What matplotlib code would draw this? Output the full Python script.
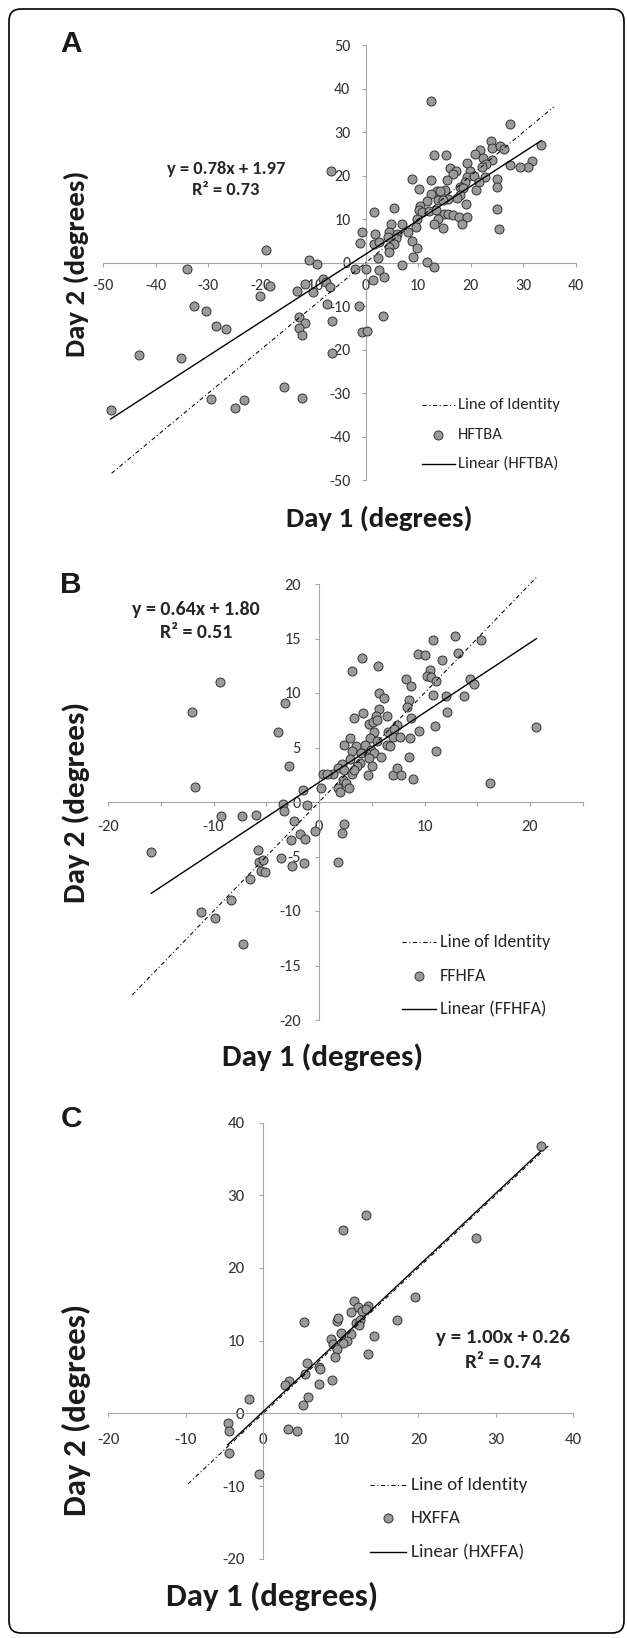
import numpy as np
import matplotlib
matplotlib.use('Agg')
import matplotlib.pyplot as plt
from matplotlib.patches import FancyBboxPatch
from matplotlib.transforms import IdentityTransform
from matplotlib.ticker import MultipleLocator
from matplotlib.lines import Line2D
from matplotlib import font_manager

# Excel look: Calibri metrics via Carlito when present
installed = {f.name for f in font_manager.fontManager.ttflist}
main_font = 'Carlito' if 'Carlito' in installed else 'Lato'
plt.rcParams['font.family'] = [main_font, 'DejaVu Sans']
plt.rcParams['axes.unicode_minus'] = False

W, H = 627, 1638

# ---- Panel A: HFTBA ----
a_day1 = [12.4, 27.5, 33.4, 23.8, 24.1, 25.5, 26.3, 21.7, 20.8, 22.4,
          24.1, 23.0, 22.2, 13.1, 15.2, 31.7, 30.9, 29.3, 27.5, 19.2,
          16.0, 17.2, 19.9, 16.6, 19.3, 20.6, 22.7, 8.8, 12.4, 25.0,
          15.4, 18.9, 21.5, 25.0, 18.0, 18.6, 10.2, 21.1, 15.1, 13.5,
          14.2, 12.4, 17.9, 17.3, 11.6, 15.6, 13.8, 14.7, 10.4, 19.1,
          5.3, 10.2, 10.7, 12.1, 13.4, 15.0, 15.6, 16.7, 17.8, 19.2,
          1.5, 25.1, 13.8, 9.8, 4.8, 7.0, 13.0, 18.4, 9.6, 14.8,
          25.3, 8.1, -0.8, 4.5, 5.9, 1.7, 4.3, 5.7, -1.1, 1.5,
          2.5, 5.3, 4.4, 4.5, 8.8, 9.7, 2.4, 9.1, 6.9, 11.7,
          13.0, -2.0, 0.1, 2.5, 3.4, 1.3, -1.3, 3.2, -0.8, 0.2,
          -6.6,
          -19.0, -34.0, -10.8, -9.3, -18.2, -20.2, -13.1, -11.6, -10.0, -8.1,
          -7.6, -6.8, -7.3, -32.8, -30.5, -28.5, -26.7, -12.7, -11.6, -12.8,
          -12.2, -6.5, -43.2, -35.2, -6.5, -15.6, -12.2, -29.5, -23.1, -24.9,
          -48.6]
a_day2 = [37.2, 32.0, 27.0, 28.0, 26.4, 26.9, 26.1, 25.9, 24.9, 24.0,
          23.5, 22.8, 21.9, 24.8, 24.8, 23.4, 22.1, 22.0, 22.5, 23.0,
          21.8, 21.1, 21.1, 20.4, 19.8, 19.9, 19.8, 19.2, 19.1, 19.2,
          18.9, 18.5, 18.6, 17.5, 17.5, 17.1, 16.9, 16.7, 16.6, 16.5,
          16.5, 15.9, 15.6, 14.8, 14.2, 14.6, 14.4, 14.4, 13.1, 13.4,
          12.6, 12.1, 11.7, 12.0, 12.1, 11.3, 11.2, 11.0, 10.6, 10.6,
          11.6, 12.3, 10.0, 10.0, 9.0, 8.8, 9.0, 9.0, 8.3, 8.0,
          7.8, 7.1, 7.1, 7.1, 6.7, 6.7, 6.0, 5.6, 4.5, 4.3,
          4.8, 4.2, 3.7, 2.5, 5.0, 3.4, 1.1, 1.4, -0.6, 0.2,
          -1.0, -1.4, -1.5, -1.7, -3.3, -3.9, -9.9, -12.3, -16.0, -15.6,
          21.0,
          3.0, -1.4, 0.6, -0.3, -5.4, -7.6, -6.5, -4.8, -6.7, -3.8,
          -4.4, -5.7, -9.5, -9.9, -11.1, -14.5, -15.2, -12.4, -13.9, -14.9,
          -16.7, -13.3, -21.3, -21.8, -20.8, -28.6, -31.0, -31.4, -31.6, -33.3,
          -33.8]

# ---- Panel B: FFHFA ----
b_day1 = [10.8, 15.4, 12.9, 4.1, 9.4, 10.0, 13.2, 11.7, 5.6, 3.1,
          10.5, 10.2, 10.6, 11.1, 8.2, 14.3, 14.7, 8.7, 5.7, 10.8,
          12.0, 13.7, 6.2, 8.5, 8.3, 5.7, 4.2, 12.1, 5.4, 3.3,
          6.4, 8.7, 4.7, 5.1, 5.5, 7.4, 11.0, 20.6, 5.2, 6.5,
          7.1, 9.5, 2.9, 4.8, 5.5, 7.0, 7.7, 8.6, 2.4, 3.5,
          4.4, 3.1, 4.0, 4.9, 6.4, 6.7, 11.1, 5.2, 5.9, 8.5,
          4.7, 2.9, 2.2, 3.9, 3.6, 5.0, 1.8, 2.4, 1.3, 0.4,
          0.8, 3.1, 3.3, 4.6, 7.0, 7.4, 7.8, 8.9, 2.3, 2.6,
          2.8, 1.8, 2.0, 0.15, -1.5, 16.2, 2.4, 2.2, 1.8, -1.1,
          -0.4, -2.4, -1.8, -1.3, -1.4, -2.6, -2.7,
          -9.4, -12.0, -3.2, -3.9, -2.8, -11.8, -3.4, -3.3, -9.3, -7.3,
          -6.0, -15.9, -5.8, -5.7, -5.3, -5.5, -5.1, -3.6, -6.5, -8.3,
          -11.2, -9.9, -7.2]
b_day2 = [14.9, 14.9, 15.2, 13.2, 13.6, 13.5, 13.7, 13.0, 12.5, 12.0,
          12.1, 11.6, 11.5, 11.1, 11.3, 11.3, 10.8, 10.6, 10.0, 9.8,
          9.7, 9.7, 9.5, 9.4, 8.7, 8.5, 8.2, 8.3, 7.9, 7.7,
          7.9, 7.7, 7.2, 7.3, 7.5, 7.1, 7.0, 6.9, 6.4, 6.4,
          6.7, 6.5, 5.9, 5.9, 5.6, 6.0, 6.0, 5.9, 5.2, 5.1,
          5.2, 4.7, 4.5, 4.8, 5.2, 5.1, 4.7, 4.5, 4.1, 4.1,
          4.0, 3.9, 3.5, 3.6, 3.3, 3.3, 3.1, 2.9, 2.6, 2.6,
          2.6, 2.6, 2.9, 2.5, 2.5, 3.1, 2.5, 2.1, 2.0, 1.7,
          1.3, 1.25, 0.9, 1.25, 1.1, 1.7, -2.0, -2.8, -5.5, -0.3,
          -2.7, -1.7, -2.9, -3.4, -5.6, -5.9, -3.5,
          11.0, 8.3, 9.1, 6.4, 3.3, 1.4, -0.2, -0.8, -1.3, -1.3,
          -1.2, -4.6, -4.4, -5.5, -5.3, -6.3, -6.4, -5.1, -7.1, -9.0,
          -10.1, -10.6, -13.0]

# ---- Panel C: HXFFA ----
c_day1 = [35.8, 13.3, 10.3, 27.4, 19.6, 11.7, 12.2, 11.3, 12.7, 13.5,
          13.3, 5.2, 9.5, 9.7, 17.2, 12.0, 12.5, 12.4, 10.0, 11.3,
          8.8, 10.8, 10.3, 14.3, 9.0, 9.5, 9.3, 13.5, 5.7, 7.2,
          7.3, 5.4, 3.3, 2.8, 8.9, 7.2, 5.8, 5.1, -1.9, 3.2,
          4.4, -4.6, -4.4, -4.4, -0.5]
c_day2 = [36.8, 27.3, 25.2, 24.1, 16.0, 15.5, 14.6, 14.0, 14.1, 14.7,
          14.3, 12.5, 12.7, 13.1, 12.8, 12.4, 12.8, 12.2, 11.0, 10.9,
          10.2, 10.0, 9.7, 10.6, 9.6, 8.8, 7.8, 8.2, 6.9, 6.4,
          6.1, 5.4, 4.4, 3.9, 4.6, 4.0, 2.2, 1.1, 2.0, -2.2,
          -2.5, -1.4, -2.5, -5.4, -8.3]

series_names = ['HFTBA', 'FFHFA', 'HXFFA']
fit_slopes = [0.78, 0.64, 1.00]
fit_intercepts = [1.97, 1.80, 0.26]
fit_r2 = [0.73, 0.51, 0.74]
identity_ranges = [(-48.4, 35.8), (-17.7, 20.7), (-9.7, 37.0)]
panel_letters = ['A', 'B', 'C']


def px_box(x_left, x_right, y_top, y_bottom):
    return [x_left / W, 1 - y_bottom / H, (x_right - x_left) / W, (y_bottom - y_top) / H]


def fxy(px, py):
    return px / W, 1 - py / H


fig = plt.figure(figsize=(W / 100, H / 100), dpi=100)

# layout per panel, in pixels of the 627x1638 picture
# (the three source panels were pasted at slightly different scales -> k)
panels = [
    dict(x=a_day1, y=a_day2, box=px_box(103.2, 575.7, 45.2, 480.2),
         xlim=(-50, 40), ylim=(-50, 50), xmaj=10, xmin=10, ymaj=10,
         k=1.0, tk=11.5, xpad=8.6, ypad=8.0,
         letter_y=44, eq=(226, 169, 190),
         leg_x=(421.7, 455, 457.7), leg_y=(405, 435, 464),
         ylab_y=264, xlab=(379, 518)),
    dict(x=b_day1, y=b_day2, box=px_box(108.0, 582.75, 584, 1020),
         xlim=(-20, 25), ylim=(-20, 20), xmaj=10, xmin=5, ymaj=5,
         k=1.08, tk=11.8, xpad=9.8, ypad=10.0,
         letter_y=585, eq=(196, 609, 633),
         leg_x=(402, 436, 440), leg_y=(942, 976, 1009),
         ylab_y=802, xlab=(323, 1057)),
    dict(x=c_day1, y=c_day2, box=px_box(108.3, 573.3, 1122.5, 1558.7),
         xlim=(-20, 40), ylim=(-20, 40), xmaj=10, xmin=10, ymaj=10,
         k=1.14, tk=12.2, xpad=11.2, ypad=10.6,
         letter_y=1119, eq=(503, 1337, 1363),
         leg_x=(370, 406, 411), leg_y=(1485, 1518, 1552),
         ylab_y=1410, xlab=(272, 1596)),
]

axis_gray = '#a6a6a6'
text_col = '#333333'
ident_dash = (4, 2.5, 1, 2.5)
marker_face = '#9a9a9a'
marker_edge = '#333333'

for i, p in enumerate(panels):
    k = p['k']
    ax = fig.add_axes(p['box'])
    ax.patch.set_visible(False)
    ax.set_xlim(p['xlim'])
    ax.set_ylim(p['ylim'])
    for s in ['top', 'right']:
        ax.spines[s].set_visible(False)
    for s in ['left', 'bottom']:
        ax.spines[s].set_position(('data', 0))
        ax.spines[s].set_color(axis_gray)
        ax.spines[s].set_linewidth(0.8)
    ax.xaxis.set_major_locator(MultipleLocator(p['xmaj']))
    ax.xaxis.set_minor_locator(MultipleLocator(p['xmin']))
    ax.yaxis.set_major_locator(MultipleLocator(p['ymaj']))
    ax.tick_params(which='both', direction='out', length=3, width=0.8,
                   color=axis_gray, labelsize=p['tk'], labelcolor=text_col)
    ax.tick_params(axis='x', pad=p['xpad'])
    ax.tick_params(axis='y', pad=p['ypad'])

    x = np.array(p['x'])
    y = np.array(p['y'])
    lo, hi = identity_ranges[i]
    ident = np.array([lo, hi])
    ax.plot(ident, ident, color='black', lw=0.75, dashes=ident_dash,
            zorder=4, clip_on=False)
    ax.scatter(x, y, s=42, c=marker_face, edgecolors=marker_edge, linewidths=0.7,
               zorder=3, clip_on=False)
    xs = np.array([x.min(), x.max()])
    ax.plot(xs, fit_slopes[i] * xs + fit_intercepts[i], color='black', lw=1.0,
            zorder=4, clip_on=False)

    # legend, drawn entry by entry at the reference positions
    name = series_names[i]
    hx0, hx1, tx = p['leg_x']
    r0, r1, r2 = p['leg_y']
    fig.add_artist(Line2D([hx0 / W, hx1 / W], [1 - r0 / H] * 2, color='black', lw=0.75,
                          dashes=ident_dash, transform=fig.transFigure))
    fig.add_artist(Line2D([(hx0 + hx1) / 2 / W], [1 - r1 / H], ls='none', marker='o',
                          markersize=6.5, markerfacecolor=marker_face,
                          markeredgecolor=marker_edge, markeredgewidth=0.7,
                          transform=fig.transFigure))
    fig.add_artist(Line2D([hx0 / W, hx1 / W], [1 - r2 / H] * 2, color='black', lw=1.0,
                          transform=fig.transFigure))
    for row, lab in zip(p['leg_y'], ['Line of Identity', name, 'Linear (%s)' % name]):
        fig.text(*fxy(tx, row), lab, ha='left', va='center', fontsize=12 * k,
                 color='#262626')

    cx, cy1, cy2 = p['eq']
    fig.text(*fxy(cx, cy1), 'y = %.2fx + %.2f' % (fit_slopes[i], fit_intercepts[i]),
             ha='center', va='center', fontweight='bold', fontsize=13.3 * k, color='#262626')
    fig.text(*fxy(cx, cy2), 'R² = %.2f' % fit_r2[i],
             ha='center', va='center', fontweight='bold', fontsize=13.3 * k, color='#262626')

    fig.text(*fxy(76, p['ylab_y']), 'Day 2 (degrees)', rotation=90, ha='center',
             va='center', fontweight='bold', fontsize=20.8 * k, color='#1a1a1a')
    fig.text(*fxy(*p['xlab']), 'Day 1 (degrees)', ha='center', va='center',
             fontweight='bold', fontsize=20.8 * k, color='#1a1a1a')
    fig.text(*fxy(71, p['letter_y']), panel_letters[i], ha='center', va='center',
             fontfamily='Liberation Sans', fontweight='bold', fontsize=21.5, color='#1a1a1a')

border = FancyBboxPatch((9, 5), 615, 1624, boxstyle='round,pad=0,rounding_size=12',
                        transform=IdentityTransform(), fill=False,
                        edgecolor='black', lw=1.2)
fig.add_artist(border)

fig.savefig('out.png', dpi=100)
